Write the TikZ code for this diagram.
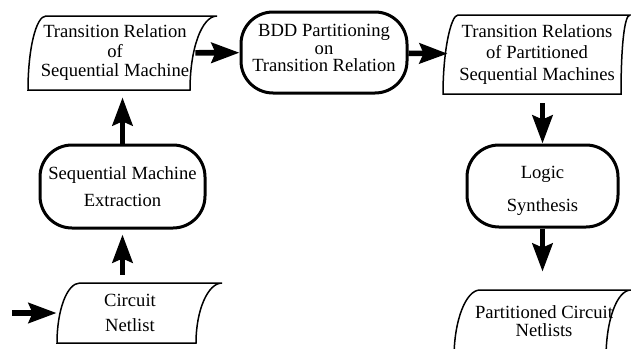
\documentclass[tikz,border=0pt]{standalone}
\usepackage{fontspec}
\setmainfont{Liberation Serif}
\usetikzlibrary{arrows.meta}
\begin{document}
\begin{tikzpicture}[x=0.5pt,y=-0.5pt,
    every node/.style={font=\fontsize{9.3}{10}\selectfont, align=center, inner sep=0pt},
    lines/.style={font=\fontsize{9.3}{#1}\selectfont},
    task/.style={draw, line width=1.5pt, rounded corners=16pt},
    tape/.style={line width=0.75pt},
    flow/.style={line width=2.8pt, -{Stealth[length=14pt,width=10pt,inset=2pt]}}]
    \useasboundingbox (0,0) rectangle (631,348);
    \node[lines=9.75pt, minimum width=80pt, minimum height=37pt] (trel) at (115,53) {Transition Relation\\of\\Sequential Machine};
    \node[task, lines=8.75pt, text height=19.5pt, minimum width=83pt, minimum height=40.5pt] (bdd) at (324,52.5) {BDD Partitioning\\on\\Transition Relation};
    \node[lines=10.75pt, minimum width=89pt, minimum height=39.5pt] (prel) at (537,54.5) {Transition Relations\\of Partitioned\\Sequential Machines};
    \node[task, lines=16.5pt, text height=28pt, minimum width=75.5pt, minimum height=41pt] (logic) at (542.5,186) {Logic\\Synthesis};
    \node[lines=9pt, minimum width=75pt, minimum height=31pt] (pnet) at (544,321) {Partitioned Circuit\\Netlists};
    \node[task, lines=13.5pt, minimum width=82.5pt, minimum height=41.5pt] (seq) at (122.5,186.5) {Sequential Machine\\Extraction};
    \node[lines=12.5pt, minimum width=73pt, minimum height=30pt] (net) at (130,313) {Circuit\\Netlist};
    \coordinate (in) at (12,313);
    \draw[tape] (28,90) .. controls (28,49) and (36,16) .. (46,16) -- (217,16) .. controls (202,16) and (190,48) .. (190,90) -- cycle;
    \draw[tape] (443,94) .. controls (443,50) and (451,15) .. (458,15) -- (630,15) .. controls (624,15) and (621,50) .. (621,94) -- cycle;
    \draw[tape] (57,343) .. controls (57,310) and (67,283) .. (80,283) -- (222,283) .. controls (208,283) and (196,310) .. (196,343) -- cycle;
    \draw[tape] (454,358) .. controls (454,320) and (466,290) .. (480,290) -- (631,290) .. controls (617,290) and (606,320) .. (606,358) -- cycle;
    \draw[flow] (in) -- (net.west);
    \draw[flow,shorten <=4pt,shorten >=2.5pt] (seq.south |- net.north) -- (seq.south);
    \draw[flow,shorten >=3.5pt] (seq.north) -- (seq.north |- trel.south);
    \draw[flow] (trel) -- (bdd);
    \draw[flow] (bdd) -- (prel);
    \draw[flow,shorten <=4.5pt] (logic.north |- prel.south) -- (logic.north);
    \draw[flow,shorten >=9pt] (logic.south) -- (logic.south |- pnet.north);
  \end{tikzpicture}
\end{document}
